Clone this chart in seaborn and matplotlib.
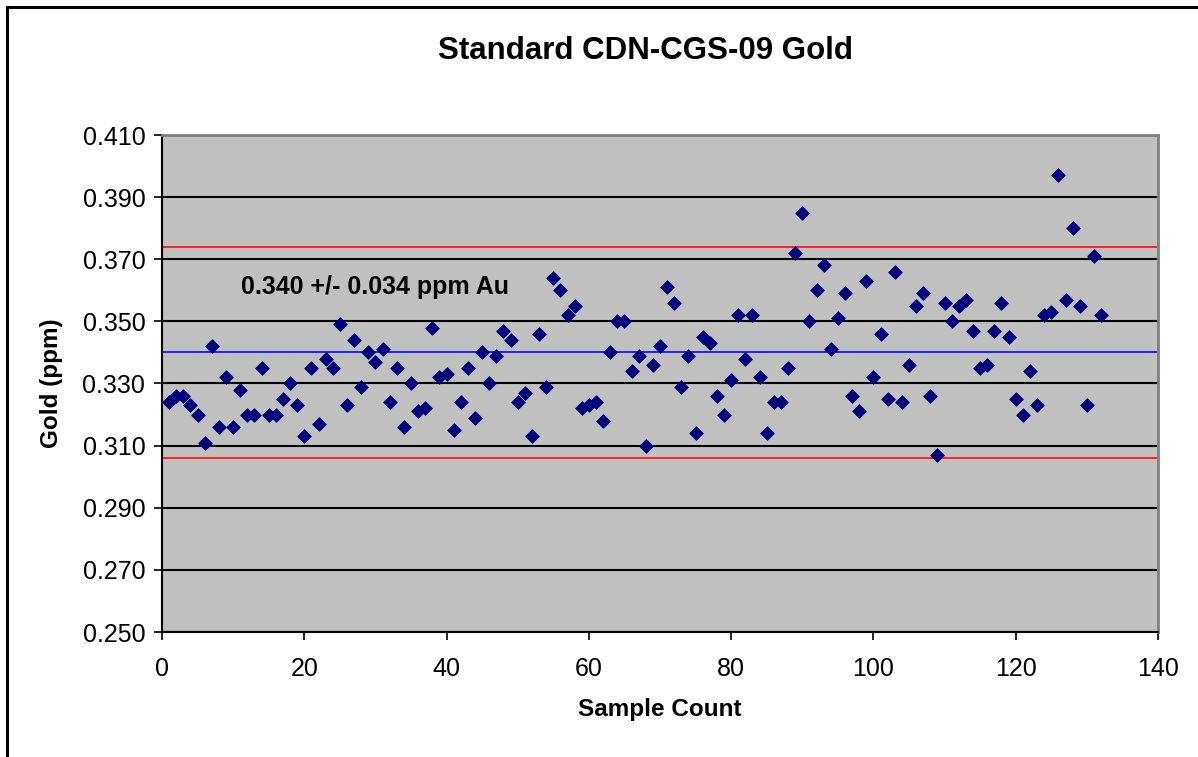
import matplotlib
matplotlib.use("Agg")
import matplotlib.pyplot as plt
from matplotlib.lines import Line2D
import seaborn as sns
import pandas as pd

# valores
amostra = list(range(1, 133))
ouro = [
    0.324, 0.326, 0.326, 0.323, 0.320, 0.311, 0.342, 0.316, 0.332, 0.316,
    0.328, 0.320, 0.320, 0.335, 0.320, 0.320, 0.325, 0.330, 0.323, 0.313,
    0.335, 0.317, 0.338, 0.335, 0.349, 0.323, 0.344, 0.329, 0.340, 0.337,
    0.341, 0.324, 0.335, 0.316, 0.330, 0.321, 0.322, 0.348, 0.332, 0.333,
    0.315, 0.324, 0.335, 0.319, 0.340, 0.330, 0.339, 0.347, 0.344, 0.324,
    0.327, 0.313, 0.346, 0.329, 0.364, 0.360, 0.352, 0.355, 0.322, 0.323,
    0.324, 0.318, 0.340, 0.350, 0.350, 0.334, 0.339, 0.310, 0.336, 0.342,
    0.361, 0.356, 0.329, 0.339, 0.314, 0.345, 0.343, 0.326, 0.320, 0.331,
    0.352, 0.338, 0.352, 0.332, 0.314, 0.324, 0.324, 0.335, 0.372, 0.385,
    0.350, 0.360, 0.368, 0.341, 0.351, 0.359, 0.326, 0.321, 0.363, 0.332,
    0.346, 0.325, 0.366, 0.324, 0.336, 0.355, 0.359, 0.326, 0.307, 0.356,
    0.350, 0.355, 0.357, 0.347, 0.335, 0.336, 0.347, 0.356, 0.345, 0.325,
    0.320, 0.334, 0.323, 0.352, 0.353, 0.397, 0.357, 0.380, 0.355, 0.323,
    0.371, 0.352,
]
media = 0.340
desvio = 0.034
y_ticks = [0.250, 0.270, 0.290, 0.310, 0.330, 0.350, 0.370, 0.390, 0.410]
x_ticks = [0, 20, 40, 60, 80, 100, 120, 140]

df = pd.DataFrame({"Amostra": amostra, "Ouro": ouro})

sns.set_style("white")
plt.rcParams.update({
    "font.family": ["Liberation Sans", "DejaVu Sans"],
    "text.color": "black",
    "axes.labelcolor": "black",
    "xtick.color": "black",
    "ytick.color": "black",
})

fig = plt.figure(figsize=(11.98, 7.57), dpi=100)
ax = fig.add_axes([162 / 1198, 1 - 632 / 757, 996 / 1198, 497 / 757])
ax.set_facecolor("#c0c0c0")

for y in y_ticks:
    ax.axhline(y, color="black", lw=1.5, zorder=1)
ax.axhline(media, color="#2020ff", lw=1.4, zorder=2)
ax.axhline(media + desvio, color="#ff2020", lw=1.4, zorder=2)
ax.axhline(media - desvio, color="#ff2020", lw=1.4, zorder=2)

sns.scatterplot(data=df, x="Amostra", y="Ouro", marker="D", s=48,
                color="#000080", edgecolor="#000060", linewidth=0.6,
                ax=ax, zorder=3, legend=False)

ax.set_xlim(0, 140)
ax.set_ylim(0.250, 0.410)
ax.set_xticks(x_ticks)
ax.set_yticks(y_ticks)
ax.set_yticklabels([f"{v:.3f}" for v in y_ticks])
ax.tick_params(axis="both", labelsize=18, direction="out", length=6,
               width=1.2, left=True, bottom=True)
ax.tick_params(axis="x", pad=12)
ax.tick_params(axis="y", pad=6)

for lado in ["top", "right"]:
    ax.spines[lado].set_color("#808080")
    ax.spines[lado].set_linewidth(2)
for lado in ["left", "bottom"]:
    ax.spines[lado].set_color("black")
    ax.spines[lado].set_linewidth(1.5)

ax.set_xlabel("Sample Count", fontsize=17.5, fontweight="bold", labelpad=12)
ax.set_ylabel("Gold (ppm)", fontsize=17.5, fontweight="bold", labelpad=14)
fig.text(645 / 1198, 1 - 51 / 757, "Standard CDN-CGS-09 Gold",
         ha="center", va="center", fontsize=22.5, fontweight="bold")
ax.text(29.9, 0.361, "0.340 +/- 0.034 ppm Au", ha="center", va="center",
        fontsize=18, fontweight="bold", zorder=4)

# moldura do gráfico (só topo e esquerda visíveis)
fig.add_artist(Line2D([7 / 1198, 1], [1 - 7 / 757, 1 - 7 / 757],
                      color="black", lw=2.2, transform=fig.transFigure))
fig.add_artist(Line2D([7 / 1198, 7 / 1198], [0, 1 - 7 / 757],
                      color="black", lw=2.2, transform=fig.transFigure))

fig.savefig("out.png", dpi=100)
